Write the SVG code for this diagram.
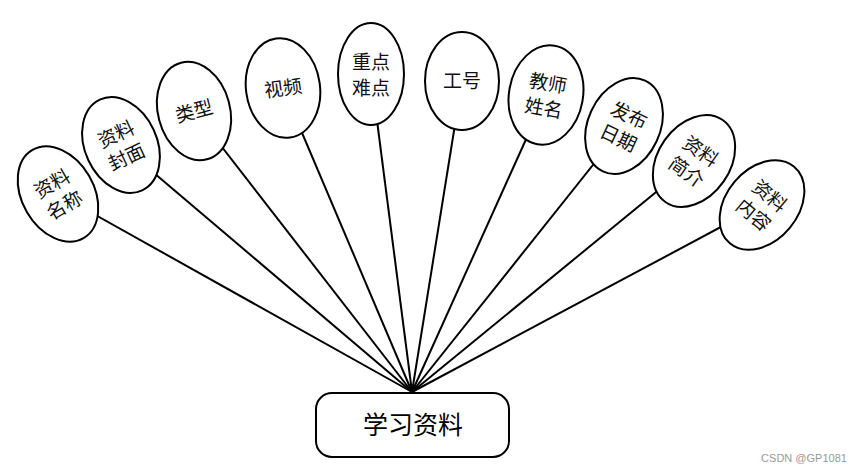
<svg xmlns="http://www.w3.org/2000/svg" width="862" height="472" viewBox="0 0 862 472">
<style>
.e{fill:#fff;stroke:#000;stroke-width:2}
.t{font-family:"Noto Sans CJK SC","Liberation Sans",sans-serif;font-size:19px;fill:#111;text-anchor:middle}
.c line{stroke:#000;stroke-width:2}
</style>
<rect width="862" height="472" fill="#fff"/>
<g class="c" id="connectors">
<line x1="58" y1="194" x2="412" y2="392"/>
<line x1="121" y1="145" x2="412" y2="392"/>
<line x1="194" y1="111" x2="412" y2="392"/>
<line x1="283" y1="88" x2="412" y2="392"/>
<line x1="371" y1="74" x2="412" y2="392"/>
<line x1="462" y1="81" x2="412" y2="392"/>
<line x1="546" y1="95" x2="412" y2="392"/>
<line x1="624" y1="126" x2="412" y2="392"/>
<line x1="694" y1="161" x2="412" y2="392"/>
<line x1="762" y1="205" x2="412" y2="392"/>
</g>
<g id="n1" transform="translate(58,194) rotate(-30)"><ellipse class="e" rx="36" ry="51"/><text class="t" y="-5">资料</text><text class="t" y="20">名称</text></g>
<g id="n2" transform="translate(121,145) rotate(-25)"><ellipse class="e" rx="36" ry="50"/><text class="t" y="-5">资料</text><text class="t" y="20">封面</text></g>
<g id="n3" transform="translate(194,111) rotate(-15)"><ellipse class="e" rx="36" ry="50"/><text class="t" y="7">类型</text></g>
<g id="n4" transform="translate(283,88) rotate(-8)"><ellipse class="e" rx="37" ry="50"/><text class="t" y="7">视频</text></g>
<g id="n5" transform="translate(371,74)"><ellipse class="e" rx="33" ry="51"/><text class="t" y="-5">重点</text><text class="t" y="21">难点</text></g>
<g id="n6" transform="translate(462,81)"><ellipse class="e" rx="37" ry="49"/><text class="t" y="7">工号</text></g>
<g id="n7" transform="translate(546,95) rotate(10)"><ellipse class="e" rx="37" ry="50"/><text class="t" y="-5">教师</text><text class="t" y="20">姓名</text></g>
<g id="n8" transform="translate(624,126) rotate(25)"><ellipse class="e" rx="36" ry="50"/><text class="t" y="-5">发布</text><text class="t" y="20">日期</text></g>
<g id="n9" transform="translate(694,161) rotate(35)"><ellipse class="e" rx="36" ry="50"/><text class="t" y="-5">资料</text><text class="t" y="20">简介</text></g>
<g id="n10" transform="translate(762,205) rotate(40)"><ellipse class="e" rx="36" ry="50"/><text class="t" y="-5">资料</text><text class="t" y="20">内容</text></g>
<g id="main"><rect x="316" y="393" width="193" height="64" rx="16" fill="#fff" stroke="#000" stroke-width="2"/><text x="413" y="434" font-family="Noto Sans CJK SC,sans-serif" font-size="25" text-anchor="middle" fill="#000">学习资料</text></g>
<text x="804" y="462" font-family="Liberation Sans,sans-serif" font-size="11" fill="#999" text-anchor="middle">CSDN @GP1081</text>
</svg>
